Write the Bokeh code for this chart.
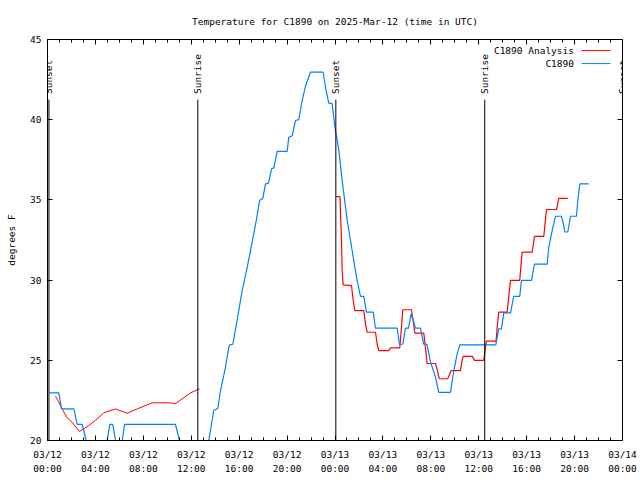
import numpy as np
from bokeh.plotting import figure
from bokeh.models import (Range1d, FixedTicker, LinearAxis, Label, LabelSet,
                          Arrow, ColumnDataSource, CustomJSTickFormatter)
from bokeh.core.properties import value
from bokeh.embed import file_html
from bokeh.resources import INLINE

FONT = "DejaVu Sans Mono"
FS = "9.5px"

# x values: hours since 2025-03-12 00:00 UTC
tick_hours = [0, 4, 8, 12, 16, 20, 24, 28, 32, 36, 40, 44, 48]
tick_labels = ["03/12\n00:00", "03/12\n04:00", "03/12\n08:00", "03/12\n12:00",
               "03/12\n16:00", "03/12\n20:00", "03/13\n00:00", "03/13\n04:00",
               "03/13\n08:00", "03/13\n12:00", "03/13\n16:00", "03/13\n20:00",
               "03/14\n00:00"]
minor_hours = list(range(0, 49))
y_ticks = [20, 25, 30, 35, 40, 45]

# C1890 Analysis (two night-time pieces)
analysis1_hours = [0.67, 0.94, 1.22, 1.64, 2.06, 2.67, 3.03, 3.45, 4.15, 4.70,
                   5.68, 6.65, 7.49, 8.74, 10.27, 10.68, 11.24, 11.94, 12.69]
analysis1_temp = [22.76, 22.39, 21.97, 21.41, 21.14, 20.56, 20.73, 20.94, 21.35, 21.73,
                  21.97, 21.70, 21.97, 22.35, 22.35, 22.29, 22.60, 22.97, 23.22]

analysis2_hours = [24.10, 24.42, 24.46, 24.54, 24.60, 24.68, 25.38, 25.49, 25.65, 26.40,
                   26.54, 26.68, 27.38, 27.52, 27.65, 28.49, 28.63, 29.41, 29.55, 29.66,
                   30.38, 30.52, 30.66, 31.41, 31.55, 31.69, 32.39, 32.55, 32.70, 33.41,
                   33.58, 33.70, 34.47, 34.61, 34.70, 35.48, 35.64, 36.42, 36.56, 36.64,
                   37.45, 37.54, 37.67, 38.37, 38.65, 39.42, 39.62, 40.46, 40.65, 41.43,
                   41.65, 42.49, 42.68, 43.43]
analysis2_temp = [35.20, 35.20, 34.20, 32.50, 30.60, 29.70, 29.66, 28.90, 28.10, 28.10,
                  27.27, 26.75, 26.75, 26.00, 25.60, 25.60, 25.78, 25.78, 27.07, 28.15,
                  28.15, 27.50, 26.70, 26.70, 25.80, 24.80, 24.80, 24.36, 23.85, 23.85,
                  24.15, 24.36, 24.36, 25.00, 25.24, 25.24, 25.00, 25.00, 25.80, 26.20,
                  26.20, 27.07, 28.00, 28.00, 29.98, 29.98, 31.74, 31.74, 32.72, 32.72,
                  34.40, 34.40, 35.10, 35.10]

# C1890 observations
obs_hours = [0.17, 0.94, 1.17, 2.20, 2.48, 2.90, 3.23, 3.34, 4.88, 4.98,
             5.20, 5.45, 5.68, 5.76, 6.14, 6.24, 6.43, 10.68, 11.02, 11.10,
             13.36, 13.46, 13.88, 14.22, 14.44, 14.86, 15.13, 15.22, 15.47, 15.83,
             16.25, 16.67, 16.95, 17.45, 17.70, 17.97, 18.20, 18.45, 18.70, 18.90,
             19.17, 20.01, 20.14, 20.43, 20.70, 20.98, 21.26, 21.54, 21.95, 23.01,
             23.21, 23.48, 23.76, 23.98, 24.32, 24.60, 25.02, 25.29, 25.57, 25.85,
             26.13, 26.40, 26.63, 27.19, 27.38, 29.19, 29.38, 29.66, 29.88, 30.13,
             30.36, 30.72, 31.13, 31.41, 31.68, 31.97, 32.39, 32.66, 33.64, 33.92,
             34.20, 34.42, 37.42, 37.54, 37.67, 37.90, 38.09, 38.65, 38.92, 39.42,
             39.57, 40.40, 40.65, 41.71, 41.85, 42.13, 42.40, 42.90, 43.10, 43.18,
             43.43, 43.66, 44.16, 44.27, 44.44, 45.18]
obs_temp = [22.97, 22.97, 21.97, 21.97, 21.00, 21.00, 20.00, 19.50, 19.50, 20.00,
            21.00, 21.00, 20.00, 19.50, 19.50, 20.00, 21.00, 21.00, 20.00, 19.50,
            19.50, 20.00, 21.87, 22.00, 23.10, 24.57, 25.80, 25.96, 26.00, 27.50,
            29.35, 30.80, 31.85, 33.80, 34.96, 35.10, 36.00, 36.05, 36.94, 37.00,
            38.03, 38.03, 38.90, 39.00, 39.95, 40.00, 41.20, 42.10, 42.96, 42.96,
            42.00, 41.03, 41.00, 39.60, 38.10, 36.20, 33.70, 32.50, 31.20, 29.97,
            28.98, 28.98, 28.00, 28.00, 27.00, 27.00, 26.00, 26.00, 27.00, 27.00,
            27.90, 27.00, 27.00, 26.00, 26.00, 24.90, 23.95, 23.00, 23.00, 24.36,
            25.40, 25.96, 25.96, 26.44, 26.96, 26.96, 27.96, 27.96, 28.98, 28.98,
            29.98, 29.98, 31.00, 31.00, 32.05, 33.09, 33.98, 33.98, 33.40, 33.00,
            33.00, 33.98, 33.98, 34.96, 36.00, 36.00]

sun_event_hours = [0.12, 12.55, 24.07, 36.50, 48.00]
sun_event_names = ["Sunset", "Sunrise", "Sunset", "Sunrise", "Sunset"]

series_names = ["C1890 Analysis", "C1890"]
series_colors = ["#ff0000", "#0080ff"]

p = figure(width=640, height=480, output_backend="svg", toolbar_location=None,
           x_range=Range1d(0, 48), y_range=Range1d(20, 45),
           min_border_left=47, min_border_right=18, min_border_top=39,
           min_border_bottom=40,
           title="Temperature for C1890 on 2025-Mar-12 (time in UTC)")
p.background_fill_color = "white"
p.border_fill_color = "white"
p.outline_line_color = "black"
p.outline_line_alpha = 1.0
p.outline_line_width = 1
p.grid.visible = False

p.title.align = "center"
p.title.text_font = FONT
p.title.text_font_size = FS
p.title.text_font_style = "normal"
p.title.text_color = "black"
p.title.standoff = 25

xt = FixedTicker(ticks=tick_hours, minor_ticks=minor_hours)
yt = FixedTicker(ticks=y_ticks, minor_ticks=[])

for ax in p.xaxis:
    ax.ticker = xt
    ax.major_label_overrides = {h: lab for h, lab in zip(tick_hours, tick_labels)}
for ax in p.yaxis:
    ax.ticker = yt
    ax.axis_label = "degrees F"

for ax in p.xaxis + p.yaxis:
    ax.major_tick_in = 5
    ax.major_tick_out = 0
    ax.minor_tick_in = 3
    ax.minor_tick_out = 0
    ax.axis_line_color = "black"
    ax.major_tick_line_color = "black"
    ax.minor_tick_line_color = "black"
    ax.major_label_text_font = FONT
    ax.major_label_text_font_size = FS
    ax.major_label_text_color = "black"
    ax.axis_label_text_font = FONT
    ax.axis_label_text_font_size = FS
    ax.axis_label_text_font_style = "normal"
    ax.axis_label_text_color = "black"
p.xaxis.major_label_standoff = 8
p.xaxis.major_label_text_line_height = 1.35
p.yaxis.major_label_standoff = 6
p.yaxis.axis_label_standoff = 10

# mirror ticks on top and right (no labels)
blank = CustomJSTickFormatter(code="return '';")
top_ax = LinearAxis(ticker=xt, formatter=blank, major_tick_in=5, major_tick_out=0,
                    minor_tick_in=3, minor_tick_out=0, axis_line_color=None,
                    major_tick_line_color="black", minor_tick_line_color="black",
                    major_label_standoff=0)
right_ax = LinearAxis(ticker=yt, formatter=blank, major_tick_in=5, major_tick_out=0,
                      minor_tick_in=0, minor_tick_out=0, axis_line_color=None,
                      major_tick_line_color="black", minor_tick_line_color=None,
                      major_label_standoff=0)
p.add_layout(top_ax, "above")
p.add_layout(right_ax, "right")

# series
p.line(analysis1_hours, analysis1_temp, line_color=series_colors[0], line_width=1)
p.line(analysis2_hours, analysis2_temp, line_color=series_colors[0], line_width=1.2)
p.line(obs_hours, obs_temp, line_color=series_colors[1], line_width=1.2)

# sun events
sun_src = ColumnDataSource(dict(h=sun_event_hours, name=sun_event_names))
p.add_layout(Arrow(end=None, source=sun_src, x_start="h", x_end="h",
                   y_start=20, y_end=41.25, line_color="black", line_width=1))
p.add_layout(LabelSet(x="h", y=41.6, text="name", source=sun_src, angle=np.pi / 2,
                      text_align="left", text_baseline="middle",
                      text_font=value(FONT), text_font_size=value(FS),
                      text_color="black"))

# legend (text right aligned, sample line to its right)
legend_text_x = 43.95
legend_line_x = [44.57, 46.99]
legend_rows_y = [44.31, 43.50]
for name, col, yy in zip(series_names, series_colors, legend_rows_y):
    p.add_layout(Label(x=legend_text_x, y=yy, text=name, text_align="right",
                       text_baseline="middle", text_font=FONT, text_font_size=FS,
                       text_color="black"))
    p.line(legend_line_x, [yy, yy], line_color=col, line_width=1)

open("out.html", "w").write(file_html(p, INLINE))
